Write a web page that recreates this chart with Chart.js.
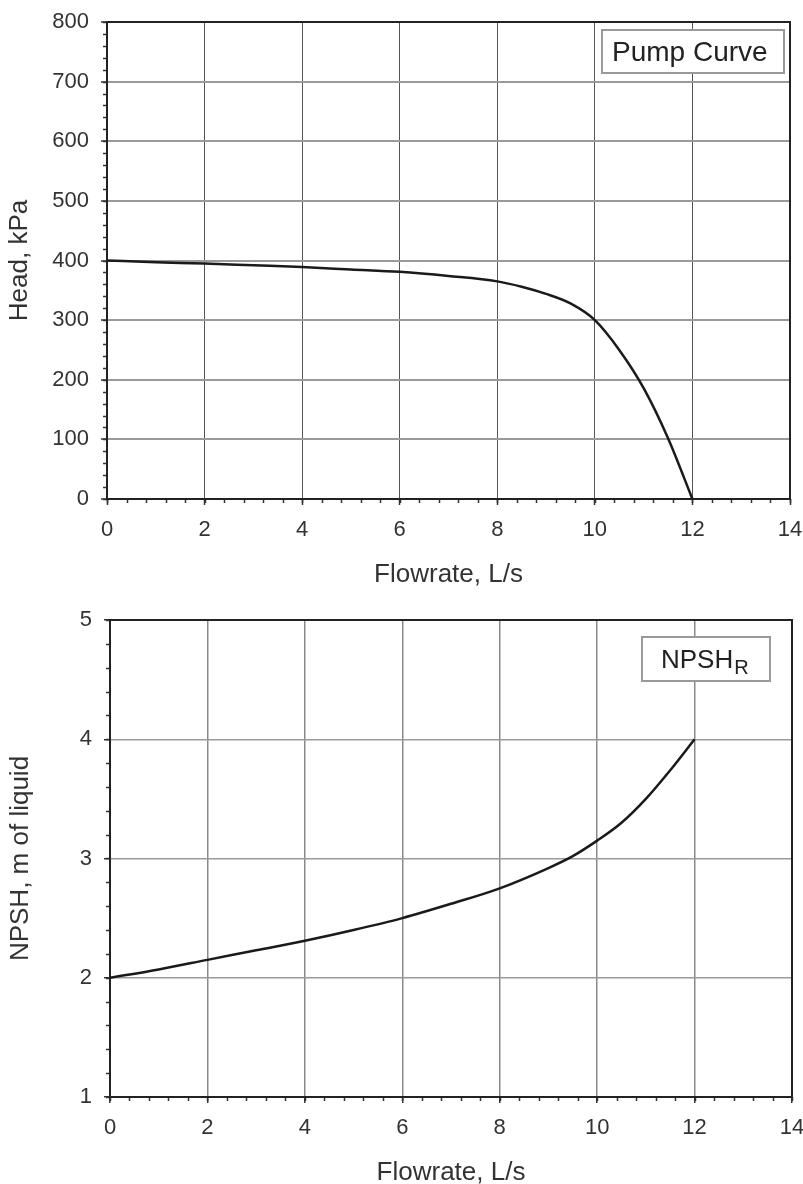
<!DOCTYPE html>
<html>
<head>
<meta charset="utf-8">
<script src="https://cdn.jsdelivr.net/npm/chart.js@4/dist/chart.umd.min.js"></script>
<style>
  html, body { margin: 0; padding: 0; background: #fff; overflow: hidden; width: 803px; height: 1184px; }
  canvas { position: absolute; left: 0; }
  #c1 { top: 0; }
  #c2 { top: 600px; }
</style>
</head>
<body>
<canvas id="c1" width="803" height="600"></canvas>
<canvas id="c2" width="803" height="600"></canvas>
<script>
// ---- data ----
const flowPump = [0, 1, 2, 3, 4, 5, 6, 7, 8, 8.5, 9, 9.5, 10, 10.5, 11, 11.5, 12];
const headPump = [400, 397, 395, 392, 389, 385, 381, 374, 365, 356, 344, 328, 300, 250, 186, 102, 0];
const flowNpsh = [0, 1, 2, 3, 4, 5, 6, 7, 8, 9, 9.5, 10, 10.5, 11, 11.5, 12];
const npshR    = [2.0, 2.07, 2.15, 2.23, 2.31, 2.4, 2.5, 2.62, 2.75, 2.92, 3.02, 3.15, 3.3, 3.5, 3.74, 4.0];
const xTitle = 'Flowrate, L/s';
const pumpYTitle = 'Head, kPa';
const npshYTitle = 'NPSH, m of liquid';
const pumpLabel = 'Pump Curve';
const npshLabel = 'NPSH';
const npshSub = 'R';

const FONT = "'Liberation Sans', Arial, sans-serif";
const TXT = '#333';

function framePlugin(opts) {
  return {
    id: 'frame',
    beforeDatasetsDraw(chart) {
      const {ctx, chartArea: a, scales} = chart;
      ctx.save();
      ctx.strokeStyle = '#333';
      ctx.lineWidth = 1.5;
      const xs = scales.x, ys = scales.y;
      for (let v = xs.min; v <= xs.max + 1e-9; v += opts.xMinor) {
        const px = Math.round(xs.getPixelForValue(v)) + 0.5;
        ctx.beginPath(); ctx.moveTo(px, a.bottom); ctx.lineTo(px, a.bottom + 4); ctx.stroke();
      }
      for (let v = ys.min; v <= ys.max + 1e-9; v += opts.yMinor) {
        const py = Math.round(ys.getPixelForValue(v)) + 0.5;
        ctx.beginPath(); ctx.moveTo(a.left, py); ctx.lineTo(a.left - 4, py); ctx.stroke();
      }
      ctx.strokeStyle = '#222';
      ctx.lineWidth = 2;
      ctx.strokeRect(a.left, a.top, a.right - a.left, a.bottom - a.top);
      ctx.restore();
    }
  };
}

function boxPlugin(opts) {
  return {
    id: 'labelbox',
    afterDraw(chart) {
      const ctx = chart.ctx;
      ctx.save();
      ctx.fillStyle = '#fff';
      ctx.fillRect(opts.x, opts.y, opts.w, opts.h);
      ctx.strokeStyle = '#999';
      ctx.lineWidth = 2;
      ctx.strokeRect(opts.x, opts.y, opts.w, opts.h);
      ctx.fillStyle = '#222';
      ctx.textBaseline = 'alphabetic';
      ctx.textAlign = 'left';
      ctx.font = opts.size + 'px ' + FONT;
      ctx.fillText(opts.text, opts.tx, opts.ty);
      if (opts.sub) {
        const w = ctx.measureText(opts.text).width;
        ctx.font = opts.subSize + 'px ' + FONT;
        ctx.fillText(opts.sub, opts.tx + w + 1, opts.ty + 6);
      }
      ctx.restore();
    }
  };
}

function zeroPad(s) {
  s.paddingLeft = 0; s.paddingRight = 0; s.paddingTop = 0; s.paddingBottom = 0;
}

function makeChart(id, cfg) {
  return new Chart(document.getElementById(id), {
    type: 'line',
    data: {
      datasets: [{
        label: cfg.label,
        data: cfg.xs.map((x, i) => ({x: x, y: cfg.ys[i]})),
        borderColor: '#1a1a1a',
        borderWidth: 2.5,
        pointRadius: 0,
        cubicInterpolationMode: 'monotone',
        fill: false
      }]
    },
    options: {
      responsive: false,
      animation: false,
      events: [],
      layout: { padding: { left: 0, right: cfg.padRight, top: cfg.padTop, bottom: 0 } },
      plugins: { legend: { display: false }, tooltip: { enabled: false } },
      scales: {
        x: {
          type: 'linear', min: 0, max: 14,
          ticks: { stepSize: 2, color: TXT, font: { family: FONT, size: 22 }, padding: 12, maxRotation: 0 },
          grid: { color: cfg.xGridColor, lineWidth: cfg.xGridWidth, tickLength: 6, tickColor: '#333', tickWidth: 1.5 },
          border: { display: false },
          title: { display: true, text: xTitle, color: TXT, font: { family: FONT, size: 26, lineHeight: 1 }, padding: { top: 0, bottom: cfg.xTitlePad } },
          afterFit(s) { s.height = cfg.xAxisH; zeroPad(s); }
        },
        y: {
          type: 'linear', min: cfg.yMin, max: cfg.yMax,
          ticks: { stepSize: cfg.yStep, color: TXT, font: { family: FONT, size: 22 }, padding: 12 },
          grid: { color: cfg.yGridColor, lineWidth: cfg.yGridWidth, tickLength: 6, tickColor: '#333', tickWidth: 1.5 },
          border: { display: false },
          title: { display: true, text: cfg.yTitle, color: TXT, font: { family: FONT, size: 26, lineHeight: 1 }, padding: { top: cfg.yTitlePad, bottom: 0 } },
          afterFit(s) { s.width = cfg.yAxisW; zeroPad(s); }
        }
      }
    },
    plugins: [framePlugin({ xMinor: 0.4, yMinor: cfg.yMinor }), boxPlugin(cfg.box)]
  });
}

makeChart('c1', {
  label: pumpLabel, xs: flowPump, ys: headPump,
  yMin: 0, yMax: 800, yStep: 100, yMinor: 20,
  yTitle: pumpYTitle,
  padTop: 22, padRight: 13, xAxisH: 101, yAxisW: 107,
  xTitlePad: 12, yTitlePad: 7,
  xGridColor: '#555', xGridWidth: 1, yGridColor: '#9a9a9a', yGridWidth: 2,
  box: { x: 602, y: 30, w: 182, h: 43, text: pumpLabel, size: 28, tx: 612, ty: 61 }
});

makeChart('c2', {
  label: npshLabel + npshSub, xs: flowNpsh, ys: npshR,
  yMin: 1, yMax: 5, yStep: 1, yMinor: 0.2,
  yTitle: npshYTitle,
  padTop: 20, padRight: 11, xAxisH: 103, yAxisW: 110,
  xTitlePad: 14, yTitlePad: 8,
  xGridColor: '#8a8a8a', xGridWidth: 1.5, yGridColor: '#9a9a9a', yGridWidth: 1.5,
  box: { x: 642, y: 37, w: 128, h: 44, text: npshLabel, size: 26, tx: 661, ty: 68, sub: npshSub, subSize: 20 }
});
</script>
</body>
</html>
